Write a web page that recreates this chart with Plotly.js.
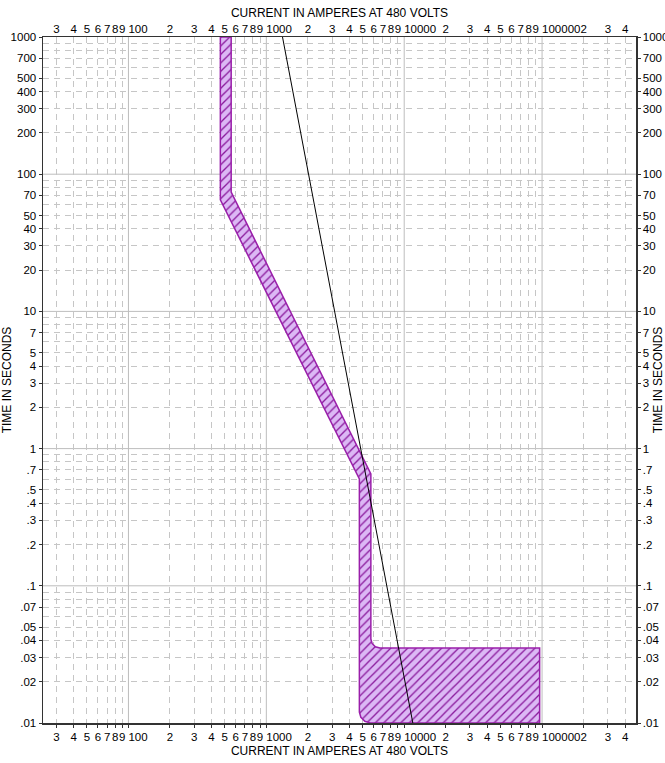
<!DOCTYPE html>
<html>
<head>
<meta charset="utf-8">
<script src="https://cdn.plot.ly/plotly-3.0.1.min.js"></script>
<style>html,body{margin:0;padding:0;background:#fff;}#chart{width:665px;height:763px;}</style>
</head>
<body>
<div id="chart"></div>
<script>
// ---- data ----
const bandCurrent = [464, 464, 4730, 4730, 4850, 5185, 5680, 96000, 96000, 6660, 6180, 5850, 5730, 5730, 556, 556, 464];
const bandTime    = [1000, 65, 0.60, 0.0120, 0.0110, 0.0103, 0.01, 0.01, 0.0352, 0.0352, 0.0359, 0.0380, 0.0409, 0.653, 74, 1000, 1000];
const lineCurrent = [1310, 11550];
const lineTime    = [1000, 0.01];

const xTickVals = [30,40,50,60,70,80,90,100,200,300,400,500,600,700,800,900,1000,2000,3000,4000,5000,6000,7000,8000,9000,10000,20000,30000,40000,50000,60000,70000,80000,90000,100000,200000,300000,400000];
const xTickText = ['3','4','5','6','7','8','9','100','2','3','4','5','6','7','8','9','1000','2','3','4','5','6','7','8','9','10000','2','3','4','5','6','7','8','9','100000','2','3','4'];
const xDecades = [100, 1000, 10000, 100000];

const yTickVals = [0.01,0.02,0.03,0.04,0.05,0.07,0.1,0.2,0.3,0.4,0.5,0.7,1,2,3,4,5,7,10,20,30,40,50,70,100,200,300,400,500,700,1000];
const yTickText = ['.01','.02','.03','.04','.05','.07','.1','.2','.3','.4','.5','.7','1','2','3','4','5','7','10','20','30','40','50','70','100','200','300','400','500','700','1000'];
const yGridVals = [0.02,0.03,0.04,0.05,0.06,0.07,0.08,0.09,0.2,0.3,0.4,0.5,0.6,0.7,0.8,0.9,2,3,4,5,6,7,8,9,20,30,40,50,60,70,80,90,200,300,400,500,600,700,800,900];
const yDecades = [0.1, 1, 10, 100];

const xTitle = 'CURRENT IN AMPERES AT 480 VOLTS';
const yTitle = 'TIME IN SECONDS';

// ---- styling ----
const FONT = 'Liberation Sans, Arial, sans-serif';
const xGridVals = xTickVals.filter(v => xDecades.indexOf(v) < 0);
// decade labels start at their tick (left-aligned) as in the reference: pad with no-break spaces
const xTickShown = xTickText.map((t, i) => xDecades.indexOf(xTickVals[i]) >= 0 ? '\u00a0'.repeat(2 * t.length) + t : t);
const xRange = [Math.log10(24), Math.log10(480000)];
const yRange = [-2, 3];
const minorGrid = {color: '#c6c6c6', dash: '6px,5px'};
const majorGridColor = '#bdbdbd';
const tickfont = {family: FONT, size: 11.5, color: '#000'};
const titlefont = {family: FONT, size: 12, color: '#000'};

const traces = [
  {
    x: bandCurrent, y: bandTime, xaxis: 'x', yaxis: 'y',
    type: 'scatter', mode: 'lines',
    fill: 'toself',
    fillcolor: '#dcb8f5',
    fillpattern: {shape: '/', bgcolor: '#dcb8f5', fgcolor: '#8a1a9c', size: 6, solidity: 0.22},
    line: {color: '#9a1faa', width: 1.5},
    hoverinfo: 'skip', showlegend: false
  },
  {
    x: lineCurrent, y: lineTime, xaxis: 'x2', yaxis: 'y2',
    type: 'scatter', mode: 'lines',
    line: {color: '#000', width: 1},
    hoverinfo: 'skip', showlegend: false
  }
];

const shapes = [];
xDecades.forEach(v => shapes.push({type: 'line', xref: 'x', yref: 'paper', x0: v, x1: v, y0: 0, y1: 1, layer: 'below', line: {color: majorGridColor, width: 1}}));
yDecades.forEach(v => shapes.push({type: 'line', xref: 'paper', yref: 'y', x0: 0, x1: 1, y0: v, y1: v, layer: 'below', line: {color: majorGridColor, width: 1}}));

const commonX = {
  type: 'log', range: xRange,
  tickmode: 'array', tickvals: xTickVals, ticktext: xTickShown, tickfont: tickfont, tickangle: 0,
  ticks: 'outside', ticklen: 3, tickcolor: '#333',
  showgrid: false, zeroline: false,
  showline: true, linecolor: '#333', linewidth: 1.5
};
const commonY = {
  type: 'log', range: yRange,
  tickmode: 'array', tickvals: yTickVals, ticktext: yTickText, tickfont: tickfont, tickangle: 0,
  ticks: 'outside', ticklen: 3, tickcolor: '#333',
  showgrid: false, zeroline: false,
  showline: true, linecolor: '#333', linewidth: 1.5
};

const layout = {
  width: 665, height: 763,
  margin: {l: 43, r: 29, t: 37, b: 40},
  paper_bgcolor: '#fff', plot_bgcolor: '#fff',
  font: {family: FONT, size: 11.5, color: '#000'},
  showlegend: false,
  shapes: shapes,
  xaxis: Object.assign({}, commonX, {
    side: 'bottom', anchor: 'y',
    minor: {tickmode: 'array', tickvals: xGridVals, showgrid: true, gridcolor: minorGrid.color, griddash: minorGrid.dash, gridwidth: 1, ticks: ''},
    title: {text: xTitle, font: titlefont, standoff: 4}
  }),
  xaxis2: Object.assign({}, commonX, {
    side: 'top', overlaying: 'x', anchor: 'y',
    ticks: '', ticklabelstandoff: -2,
    title: {text: xTitle, font: titlefont, standoff: 2}
  }),
  yaxis: Object.assign({}, commonY, {
    side: 'left', anchor: 'x',
    minor: {tickmode: 'array', tickvals: yGridVals, showgrid: true, gridcolor: minorGrid.color, griddash: minorGrid.dash, gridwidth: 1, ticks: ''},
    title: {text: yTitle, font: titlefont, standoff: 0}
  }),
  yaxis2: Object.assign({}, commonY, {
    side: 'right', overlaying: 'y', anchor: 'x',
    title: {text: yTitle, font: titlefont, standoff: 0}
  })
};

Plotly.newPlot('chart', traces, layout, {staticPlot: true, displayModeBar: false});
</script>
</body>
</html>
